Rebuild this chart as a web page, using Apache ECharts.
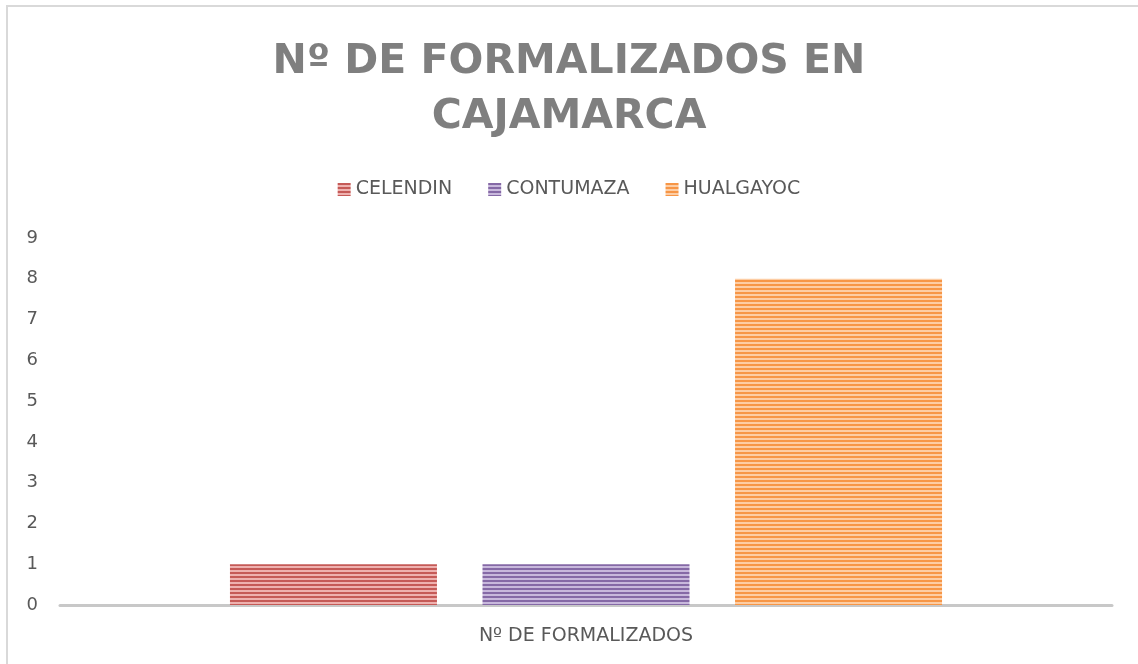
<!DOCTYPE html>
<html>
<head>
<meta charset="utf-8">
<script src="https://cdn.jsdelivr.net/npm/echarts@6/dist/echarts.min.js"></script>
<style>
  html, body { margin: 0; padding: 0; background: #fff; }
  #main { width: 1138px; height: 664px; }
</style>
</head>
<body>
<div id="main"></div>
<script>
// Nº de formalizados por provincia
const categories = ['Nº DE FORMALIZADOS'];
const seriesNames = ['CELENDIN', 'CONTUMAZA', 'HUALGAYOC'];
const celendin = [1];
const contumaza = [1];
const hualgayoc = [8];
const yTicks = [0, 9, 1]; // min, max, interval

// rayas horizontales tipo "Excel pattern"
function stripes(dark, light) {
    const c = document.createElement('canvas');
    c.width = 4; c.height = 4;
    const ctx = c.getContext('2d');
    ctx.fillStyle = light;
    ctx.fillRect(0, 0, 4, 4);
    ctx.fillStyle = dark;
    ctx.fillRect(0, 0, 4, 2);
    return { image: c, repeat: 'repeat' };
}

const colors = [
    stripes('#c55a57', '#eeb1af'),
    stripes('#8569a6', '#c8b8dc'),
    stripes('#f79646', '#fdcda4')
];

const chart = echarts.init(document.getElementById('main'));
const font = '"DejaVu Sans", sans-serif';

const mk = (name, data, i) => ({
    name: name,
    type: 'bar',
    data: data,
    barWidth: 207,
    barGap: '22%',
    itemStyle: { color: colors[i] }
});

chart.setOption({
    animation: false,
    title: {
        text: 'Nº DE FORMALIZADOS EN\nCAJAMARCA',
        left: 'center',
        top: 30,
        textStyle: {
            color: '#7f7f7f',
            fontSize: 41,
            fontWeight: 'bold',
            fontFamily: font,
            lineHeight: 55
        }
    },
    legend: {
        top: 175,
        left: 'center',
        itemWidth: 13,
        itemHeight: 13,
        itemGap: 36,
        icon: 'rect',
        textStyle: { color: '#595959', fontSize: 19, fontFamily: font }
    },
    graphic: [{
        type: 'rect',
        shape: { x: 7, y: 6, width: 1200, height: 800 },
        style: { fill: 'none', stroke: '#d9d9d9', lineWidth: 2 },
        silent: true
    }],
    grid: { left: 60, right: 26, top: 238, bottom: 59 },
    xAxis: {
        type: 'category',
        data: categories,
        axisTick: { show: false },
        axisLine: { lineStyle: { color: '#c8c8c8', width: 3 } },
        axisLabel: { color: '#595959', fontSize: 19, fontFamily: font, margin: 22 }
    },
    yAxis: {
        type: 'value',
        min: yTicks[0],
        max: yTicks[1],
        interval: yTicks[2],
        splitLine: { show: false },
        axisLine: { show: false },
        axisLabel: { color: '#595959', fontSize: 18, fontFamily: font, margin: 22 }
    },
    series: [
        mk(seriesNames[0], celendin, 0),
        mk(seriesNames[1], contumaza, 1),
        mk(seriesNames[2], hualgayoc, 2)
    ]
});
</script>
</body>
</html>
